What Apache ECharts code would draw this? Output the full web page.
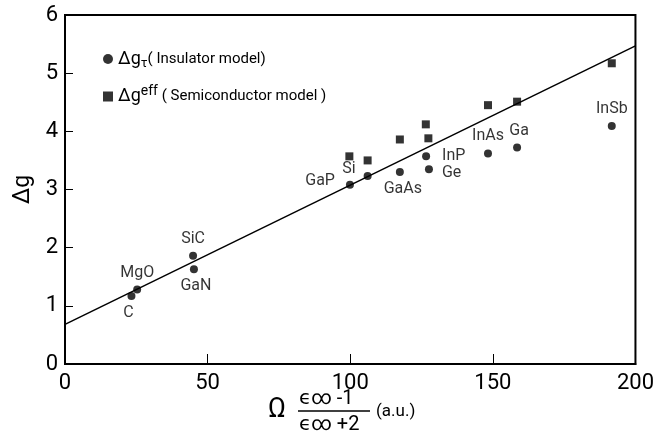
<!DOCTYPE html>
<html>
<head>
<meta charset="utf-8">
<script src="https://cdn.jsdelivr.net/npm/echarts@6/dist/echarts.min.js"></script>
<style>
  html, body { margin: 0; padding: 0; background: #fff; }
  #chart { width: 657px; height: 446px; }
</style>
</head>
<body>
<div id="chart"></div>
<script>
// insulator model (circles)
const names = ["C", "MgO", "SiC", "GaN", "GaP", "Si", "GaAs", "InP", "Ge", "InAs", "Ga", "InSb"];
const omega = [23.3, 25.3, 44.9, 45.2, 99.9, 106.1, 117.4, 126.6, 127.6, 148.3, 158.5, 191.7];
const dgTau = [1.17, 1.28, 1.86, 1.63, 3.08, 3.23, 3.30, 3.57, 3.35, 3.62, 3.72, 4.09];

// semiconductor model (squares)
const omegaEff = [99.7, 106.1, 117.4, 126.5, 127.4, 148.3, 158.5, 191.7];
const dgEff = [3.57, 3.50, 3.86, 4.12, 3.88, 4.45, 4.51, 5.17];

// straight fit line
const fitX = [0, 200];
const fitY = [0.68, 5.47];

const xTicks = [0, 50, 100, 150, 200];
const yTicks = [0, 1, 2, 3, 4, 5, 6];

const FONT = "Roboto, 'DejaVu Sans', sans-serif";

// where each name sits relative to its dot
const labelPlace = {
	C: { position: "bottom", offset: [-3, 0] },
	MgO: { position: "top" },
	SiC: { position: "top" },
	GaN: { position: "bottom", offset: [2, 0] },
	GaP: { position: "left", offset: [-6, -4] },
	Si: { position: "left", offset: [-3, -7] },
	GaAs: { position: "bottom", offset: [3, 0] },
	InP: { position: "right", distance: 12 },
	Ge: { position: "right", distance: 9, offset: [0, 4] },
	InAs: { position: "top" },
	Ga: { position: "top", offset: [2, 0] },
	InSb: { position: "top" },
};

const chart = echarts.init(document.getElementById("chart"));

chart.setOption({
	animation: false,
	textStyle: { fontFamily: FONT, color: "#000" },
	grid: {
		left: 65, right: 20, top: 15, bottom: 82,
		show: true, borderColor: "#000", borderWidth: 2,
	},
	legend: {
		orient: "vertical",
		left: 98,
		top: 45,
		itemWidth: 10,
		itemHeight: 10,
		itemGap: 14,
		data: [
			{ name: "tau", icon: "circle" },
			{ name: "eff", icon: "rect" },
		],
		formatter: (n) => n === "tau"
			? "{b|Δg}{sub|τ}{t|( Insulator model)}"
			: "{b|Δg}{sup|eff}{t| ( Semiconductor model )}",
		textStyle: {
			color: "#000",
			rich: {
				b: { fontSize: 18, fontFamily: FONT },
				t: { fontSize: 15, fontFamily: FONT },
				sub: { fontSize: 13, fontFamily: FONT, padding: [10, 0, 0, 0] },
				sup: { fontSize: 14, fontFamily: FONT, padding: [0, 0, 10, 0] },
			},
		},
	},
	xAxis: {
		type: "value",
		min: xTicks[0],
		max: xTicks[xTicks.length - 1],
		interval: 50,
		axisLine: { lineStyle: { color: "#000", width: 2 } },
		axisTick: { inside: true, length: 10, lineStyle: { color: "#000" } },
		axisLabel: { fontSize: 22, margin: 8, color: "#000", fontFamily: FONT },
		splitLine: { show: false },
	},
	yAxis: {
		type: "value",
		min: yTicks[0],
		max: yTicks[yTicks.length - 1],
		interval: 1,
		name: "Δg",
		nameLocation: "middle",
		nameRotate: 90,
		nameGap: 30,
		nameTextStyle: { fontSize: 23, color: "#000", fontFamily: FONT },
		axisLine: { lineStyle: { color: "#000", width: 2 } },
		axisTick: { inside: true, length: 8, lineStyle: { color: "#000" } },
		axisLabel: { fontSize: 22, margin: 7, color: "#000", fontFamily: FONT },
		splitLine: { show: false },
	},
	graphic: [
		{ type: "text", left: 268, top: 397, style: { text: "Ω", fontSize: 27, fontFamily: FONT, fill: "#000" } },
		{ type: "text", left: 299, top: 389, style: { text: "ϵ∞ -1", fontSize: 20, fontFamily: FONT, fill: "#000" } },
		{ type: "line", shape: { x1: 298, y1: 411, x2: 370, y2: 411 }, style: { stroke: "#000", lineWidth: 1.5 } },
		{ type: "text", left: 299, top: 415, style: { text: "ϵ∞ +2", fontSize: 20, fontFamily: FONT, fill: "#000" } },
		{ type: "text", left: 376, top: 403, style: { text: "(a.u.)", fontSize: 17, fontFamily: FONT, fill: "#000" } },
	],
	series: [
		{
			name: "fit",
			type: "line",
			data: fitX.map((x, i) => [x, fitY[i]]),
			showSymbol: false,
			symbol: "none",
			lineStyle: { color: "#000", width: 1.5 },
			z: 1,
		},
		{
			name: "tau",
			type: "scatter",
			symbol: "circle",
			symbolSize: 8,
			itemStyle: { color: "#000" },
			label: {
				show: true,
				fontSize: 16,
				fontFamily: FONT,
				color: "#000",
				formatter: (p) => p.data.name,
			},
			data: names.map((n, i) => ({
				name: n,
				value: [omega[i], dgTau[i]],
				label: labelPlace[n],
			})),
			z: 3,
		},
		{
			name: "eff",
			type: "scatter",
			symbol: "rect",
			symbolSize: 8,
			itemStyle: { color: "#000" },
			data: omegaEff.map((x, i) => [x, dgEff[i]]),
			z: 3,
		},
	],
});
</script>
</body>
</html>
